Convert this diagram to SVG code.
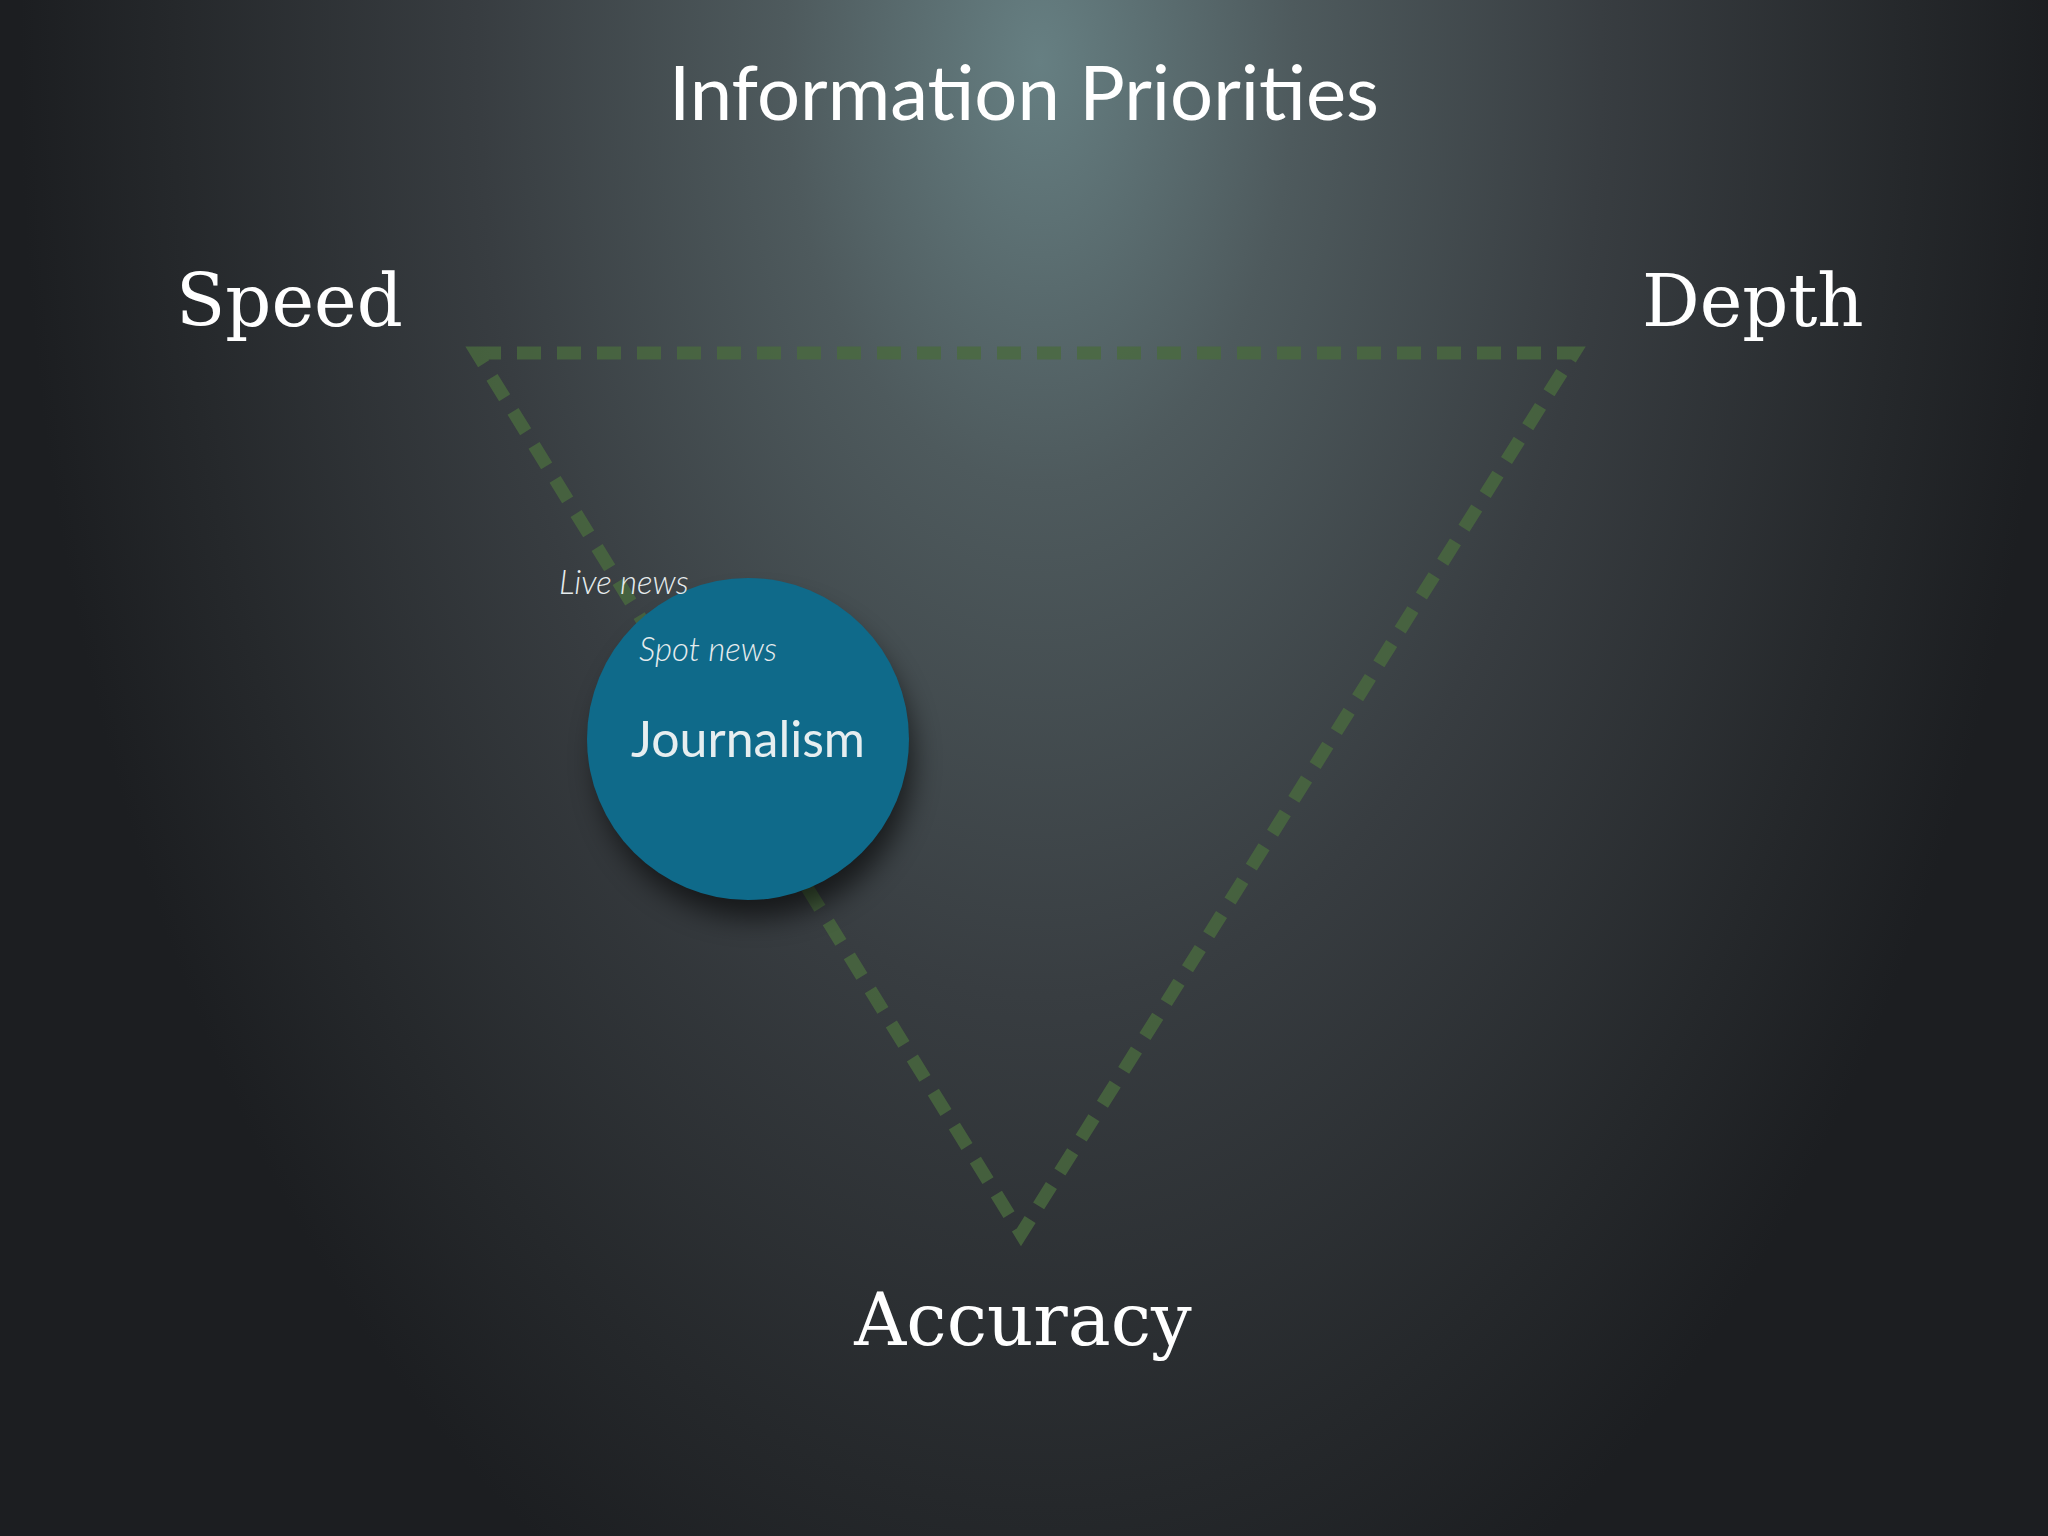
<svg xmlns="http://www.w3.org/2000/svg" width="2048" height="1536" viewBox="0 0 2048 1536">
<defs>
<radialGradient id="bg" cx="1040" cy="60" r="1700" gradientUnits="userSpaceOnUse" gradientTransform="translate(1040 60) scale(0.6 1) translate(-1040 -60)">
<stop offset="0" stop-color="#667f82"/>
<stop offset="0.25" stop-color="#4e5a5d"/>
<stop offset="0.55" stop-color="#383d41"/>
<stop offset="0.85" stop-color="#25282b"/>
<stop offset="1" stop-color="#1c1e21"/>
</radialGradient>
<filter id="sh" x="-50%" y="-50%" width="200%" height="200%"><feGaussianBlur stdDeviation="14"/></filter>
<style>
.lbl{font-family:"DejaVu Serif","Liberation Serif",serif;fill:#fff;font-size:72px}
.it{font-family:Lato,"Open Sans",sans-serif;font-style:italic;font-weight:300;fill:#e6ecee;font-size:33px}
</style>
</defs>
<rect width="2048" height="1536" fill="url(#bg)"/>
<text x="1024" y="120" text-anchor="middle" font-family="Lato,'Open Sans',sans-serif" font-size="76" fill="#fff">Information Priorities</text>
<g id="speed"><text class="lbl" x="176" y="326">Speed</text></g>
<g id="depth"><text class="lbl" x="1642" y="326">Depth</text></g>
<g id="accuracy"><text class="lbl" x="1023" y="1345" text-anchor="middle">Accuracy</text></g>
<g id="connectors">
<polygon points="477,353 1574,353 1021,1234" fill="none" stroke="#4a6a3f" stroke-width="13" stroke-dasharray="24 16" stroke-opacity="0.8"/>
</g>
<g id="journalism">
<circle cx="755" cy="760" r="158" fill="#000" opacity="0.6" filter="url(#sh)"/>
<circle cx="748" cy="739" r="161" fill="#0f6a8a"/>
<text x="748" y="757" text-anchor="middle" font-family="Lato,'Open Sans',sans-serif" font-size="50" fill="#e6eef0">Journalism</text>
</g>
<g id="live"><text class="it" x="559" y="594">Live news</text></g>
<g id="spot"><text class="it" x="639" y="661">Spot news</text></g>
</svg>
